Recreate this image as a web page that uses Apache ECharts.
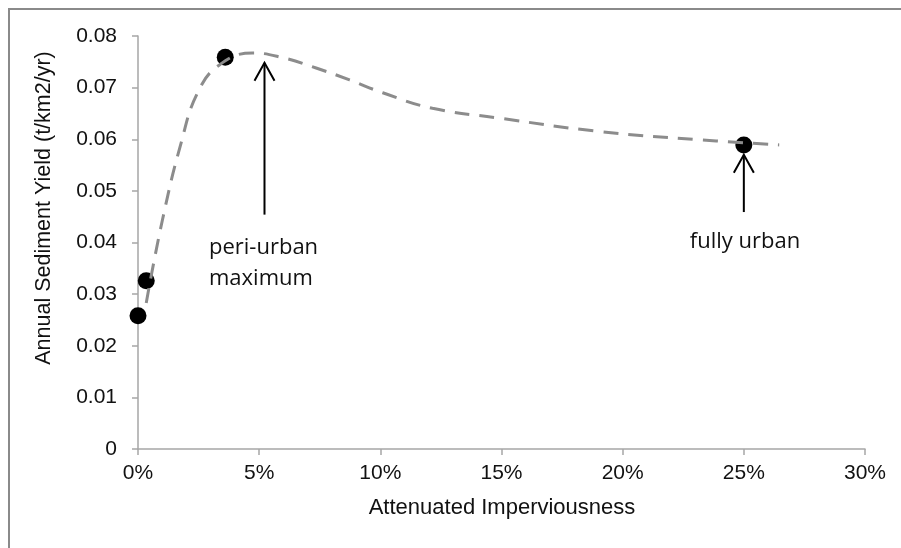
<!DOCTYPE html>
<html>
<head>
<meta charset="utf-8">
<script src="https://cdn.jsdelivr.net/npm/echarts@6/dist/echarts.min.js"></script>
<style>
html,body{margin:0;padding:0;background:#fff;}
#chart{width:901px;height:548px;}
</style>
</head>
<body>
<div id="chart"></div>
<script>
// Observed points: [imperviousness %, sediment yield t/km2/yr]
const pointX = [0, 0.34, 3.6, 25.0];
const pointY = [0.0258, 0.0326, 0.0759, 0.0589];

// Trend curve
const trendX = [0.34, 1.01, 1.78, 2.46, 3.36, 4.73, 5.97, 7.35, 8.73, 10.1, 12.15, 14.9, 19.04, 23.16, 26.46];
const trendY = [0.0283, 0.0444, 0.0593, 0.0690, 0.0744, 0.0767, 0.0758, 0.0738, 0.0715, 0.0690, 0.0660, 0.0641, 0.0615, 0.0599, 0.0589];

// Axis ticks
const xTicks = [0, 5, 10, 15, 20, 25, 30];
const yTicks = [0, 0.01, 0.02, 0.03, 0.04, 0.05, 0.06, 0.07, 0.08];

// Texts
const xTitle = 'Attenuated Imperviousness';
const yTitle = 'Annual Sediment Yield (t/km2/yr)';
const annoLabels = [['peri-urban', 'maximum'], ['fully urban']];
// Annotation arrows: [x %, y bottom, y tip] in data units
const annoArrowX = [5.22, 25.0];
const annoArrowBottom = [0.0454, 0.0459];
const annoArrowTip = [0.0748, 0.0570];

const chart = echarts.init(document.getElementById('chart'), null, {renderer: 'canvas'});
const axisGray = '#a6a6a6';
const tickFont = {fontFamily: 'Liberation Sans, Arial, sans-serif', fontSize: 21, color: '#111111'};

chart.setOption({
  animation: false,
  backgroundColor: '#ffffff',
  grid: {left: 138, right: 36, top: 36, bottom: 99, containLabel: false},
  xAxis: {
    type: 'value', min: xTicks[0], max: xTicks[xTicks.length - 1], interval: 5,
    axisLine: {show: true, onZero: false, lineStyle: {color: axisGray, width: 1.5}},
    axisTick: {show: true, length: 6, lineStyle: {color: axisGray, width: 1.5}},
    splitLine: {show: false},
    axisLabel: Object.assign({margin: 14, formatter: v => v + '%'}, tickFont)
  },
  yAxis: {
    type: 'value', min: yTicks[0], max: yTicks[yTicks.length - 1], interval: 0.01,
    axisLine: {show: true, lineStyle: {color: axisGray, width: 1.5}},
    axisTick: {show: true, length: 6, lineStyle: {color: axisGray, width: 1.5}},
    splitLine: {show: false},
    axisLabel: Object.assign({margin: 21, formatter: v => v === 0 ? '0' : v.toFixed(2)}, tickFont)
  },
  series: [
    {
      type: 'scatter', name: 'observed', z: 2,
      data: pointX.map((x, i) => [x, pointY[i]]),
      symbol: 'circle', symbolSize: 17,
      itemStyle: {color: '#000000', opacity: 1}
    },
    {
      type: 'line', name: 'trend', z: 3,
      data: trendX.map((x, i) => [x, trendY[i]]),
      showSymbol: false, symbol: 'none',
      smooth: 0.45,
      lineStyle: {color: '#8c8c8c', width: 3, type: [15, 10]}
    }
  ]
});

function px(x, y) { return chart.convertToPixel({gridIndex: 0}, [x, y]); }

const g = [];
// outer frame
g.push({type: 'rect', shape: {x: 9, y: 9, width: 1000, height: 1000}, style: {fill: 'none', stroke: '#8a8a8a', lineWidth: 2}, silent: true});
// axis titles
g.push({type: 'text', x: 502, y: 508, style: {text: xTitle, fontFamily: 'Liberation Sans, Arial, sans-serif', fontSize: 22, fill: '#111111', align: 'center', verticalAlign: 'middle'}});
g.push({type: 'text', x: 44, y: 208, rotation: Math.PI / 2, style: {text: yTitle, fontFamily: 'Liberation Sans, Arial, sans-serif', fontSize: 21.5, fill: '#111111', align: 'center', verticalAlign: 'middle'}});
// arrows
annoArrowX.forEach((ax, i) => {
  const b = px(ax, annoArrowBottom[i]);
  const t = px(ax, annoArrowTip[i]);
  g.push({type: 'line', shape: {x1: b[0], y1: b[1], x2: t[0], y2: t[1]}, style: {stroke: '#000', lineWidth: 2}});
  g.push({type: 'polyline', shape: {points: [[t[0] - 10, t[1] + 18], [t[0], t[1]], [t[0] + 10, t[1] + 18]]}, style: {stroke: '#000', lineWidth: 2, fill: 'none'}});
});
// annotation labels
const annoFont = 'Open Sans, Noto Sans, sans-serif';
g.push({type: 'text', x: 209, y: 232, style: {text: annoLabels[0].join('\n'), fontFamily: annoFont, fontSize: 22, lineHeight: 31, fill: '#111111', align: 'left', verticalAlign: 'top'}});
g.push({type: 'text', x: 745, y: 226, style: {text: annoLabels[1][0], fontFamily: annoFont, fontSize: 22, lineHeight: 31, fill: '#111111', align: 'center', verticalAlign: 'top'}});

chart.setOption({graphic: g});
</script>
</body>
</html>
